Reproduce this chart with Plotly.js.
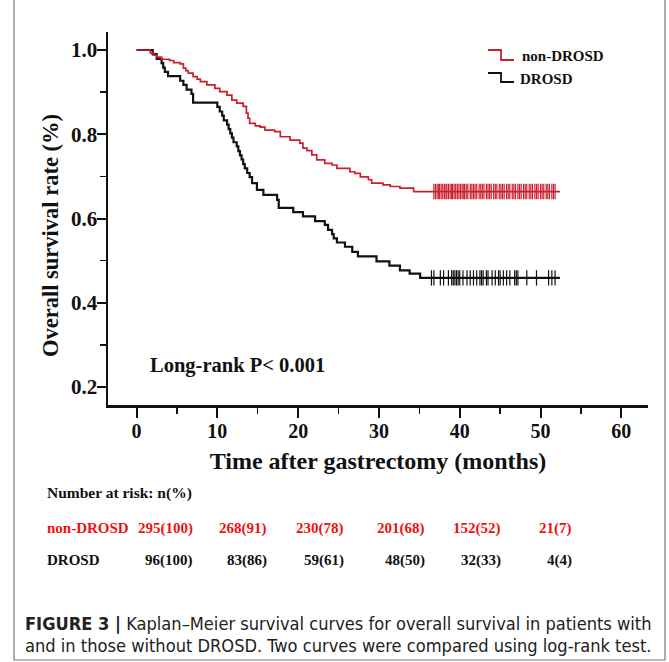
<!DOCTYPE html>
<html>
<head>
<meta charset="utf-8">
<script src="https://cdn.plot.ly/plotly-3.0.1.min.js"></script>
<style>html,body{margin:0;padding:0;background:#fff;}#chart{width:669px;height:662px;}</style>
</head>
<body>
<div id="chart"></div>
<script>
// ---------- DATA ----------
const seriesNames = ["non-DROSD", "DROSD"];

// Kaplan–Meier event times (months) and survival after each step
const nonDrosdTimes = [0, 1.7, 2.1, 2.5, 3.1, 4.1, 4.6, 5.4, 5.8, 6.1, 6.4, 7.0, 7.5, 7.9, 8.7, 9.7, 10.3, 11.2, 11.8, 12.4, 13.2, 13.6, 13.8, 14.0, 14.7, 15.3, 15.9, 17.1, 17.8, 19.0, 20.2, 20.6, 21.1, 21.7, 22.3, 23.3, 24.2, 24.8, 26.4, 27.0, 27.7, 28.7, 29.1, 30.5, 31.4, 32.6, 34.3];
const nonDrosdSurv  = [1.0, .993, .988, .983, .978, .975, .970, .967, .957, .951, .945, .937, .931, .925, .917, .909, .901, .893, .881, .874, .866, .850, .838, .826, .820, .817, .810, .806, .794, .786, .779, .767, .761, .751, .739, .731, .727, .719, .711, .707, .699, .692, .684, .680, .676, .672, .664];

const drosdTimes = [0, 2.0, 2.5, 3.1, 3.3, 3.5, 3.9, 5.4, 5.8, 6.2, 6.8, 7.0, 10.0, 10.3, 10.6, 10.8, 11.2, 11.4, 11.6, 11.8, 12.0, 12.4, 12.6, 12.8, 13.0, 13.2, 13.4, 13.7, 14.0, 14.3, 14.9, 15.7, 17.4, 17.6, 19.4, 20.6, 22.1, 23.3, 23.7, 24.2, 24.4, 24.8, 25.8, 26.7, 27.4, 29.7, 31.3, 32.6, 33.8, 35.1];
const drosdSurv  = [1.0, .990, .979, .969, .958, .948, .938, .927, .917, .906, .896, .875, .865, .854, .844, .833, .823, .812, .802, .792, .781, .771, .760, .750, .740, .729, .719, .708, .698, .684, .668, .656, .644, .625, .615, .605, .594, .585, .573, .563, .553, .543, .533, .521, .510, .498, .488, .477, .469, .459];

// censored observations (months)
const nonDrosdCensored = [36.8, 37.0, 37.2, 37.4, 37.5, 37.7, 37.9, 38.1, 38.3, 38.4, 38.6, 38.8, 39.0, 39.1, 39.3, 39.5, 39.7, 39.9, 40.1, 40.3, 40.5, 40.6, 40.8, 41.0, 41.3, 41.5, 41.7, 41.9, 42.1, 42.4, 42.6, 42.8, 43.0, 43.3, 43.5, 43.7, 43.9, 44.2, 44.4, 44.6, 44.9, 45.1, 45.3, 45.5, 45.8, 46.0, 46.2, 46.5, 46.7, 46.9, 47.2, 47.4, 47.6, 47.9, 48.1, 48.3, 48.6, 48.8, 49.0, 49.3, 49.5, 49.7, 50.0, 50.2, 50.4, 50.7, 50.9, 51.1, 51.4, 51.6, 51.8];
const drosdCensored = [36.5, 36.8, 37.6, 38.0, 38.6, 39.0, 39.2, 39.4, 39.6, 39.8, 40.0, 40.4, 40.9, 41.3, 41.7, 42.1, 42.5, 42.7, 42.9, 43.3, 43.5, 44.0, 44.4, 44.8, 45.0, 45.4, 45.8, 46.2, 46.8, 47.0, 47.2, 48.3, 49.5, 51.0, 51.4, 51.8];
const lastFollowUp = [52.4, 52.4];

// Number at risk table
const riskTimes = [0, 10, 20, 30, 40, 50];
const riskNonDrosd = ["295(100)", "268(91)", "230(78)", "201(68)", "152(52)", "21(7)"];
const riskDrosd    = ["96(100)", "83(86)", "59(61)", "48(50)", "32(33)", "4(4)"];

const xTickVals = [0, 10, 20, 30, 40, 50, 60];
const yTickVals = [0.2, 0.4, 0.6, 0.8, 1.0];
const yTickText = ["0.2", "0.4", "0.6", "0.8", "1.0"];

const xTitle = "Time after gastrectomy (months)";
const yTitle = "Overall survival rate (%)";
const pValueText = "Long-rank P< 0.001";
const riskHeader = "Number at risk: n(%)";
const captionBold = "FIGURE 3 |";
const captionLine1 = " Kaplan–Meier survival curves for overall survival in patients with";
const captionLine2 = "and in those without DROSD. Two curves were compared using log-rank test.";

// ---------- STYLE / GEOMETRY ----------
const W = 669, H = 662, ML = 108, MR = 21, MT = 32, MB = 257;
const PW = W - ML - MR, PH = H - MT - MB;
const fx = p => (p - ML) / PW;              // pixel x -> paper x
const fy = p => (H - MB - p) / PH;          // pixel y -> paper y
const RED = "#cc1f2e", BLACK = "#111111", TABLE_RED = "#ee1111";
const SERIF = "Liberation Serif, Times New Roman, serif";
const riskRightPx = [195, 269, 346, 427, 503, 574];

function stepValue(times, surv, t) {
  let v = surv[0];
  for (let i = 0; i < times.length; i++) { if (times[i] <= t) v = surv[i]; }
  return v;
}
function curve(times, surv, end) {
  return { x: times.concat([end]), y: surv.concat([surv[surv.length - 1]]) };
}

const cNon = curve(nonDrosdTimes, nonDrosdSurv, lastFollowUp[0]);
const cDr = curve(drosdTimes, drosdSurv, lastFollowUp[1]);

const traces = [
  { x: cDr.x, y: cDr.y, mode: "lines", line: { shape: "hv", color: BLACK, width: 2.2 }, name: seriesNames[1], hoverinfo: "skip" },
  { x: drosdCensored, y: drosdCensored.map(t => stepValue(drosdTimes, drosdSurv, t)), mode: "markers",
    marker: { symbol: "line-ns", size: 11, line: { color: BLACK, width: 1.2 } }, name: seriesNames[1] + " censored", hoverinfo: "skip" },
  { x: cNon.x, y: cNon.y, mode: "lines", line: { shape: "hv", color: RED, width: 1.7 }, name: seriesNames[0], hoverinfo: "skip" },
  { x: nonDrosdCensored, y: nonDrosdCensored.map(t => stepValue(nonDrosdTimes, nonDrosdSurv, t)), mode: "markers",
    marker: { symbol: "line-ns", size: 11, line: { color: RED, width: 1.2 } }, name: seriesNames[0] + " censored", hoverinfo: "skip" }
];

const annotations = [];
const shapes = [];

// legend (step-shaped keys)
function legendKey(yTop, yBot, color) {
  return { type: "path", xref: "paper", yref: "paper",
    path: `M ${fx(488)} ${fy(yTop)} L ${fx(501)} ${fy(yTop)} L ${fx(501)} ${fy(yBot)} L ${fx(514)} ${fy(yBot)}`,
    line: { color: color, width: 1.8 } };
}
shapes.push(legendKey(50, 60, RED));
shapes.push(legendKey(73, 82, BLACK));
annotations.push({ xref: "paper", yref: "paper", x: fx(520), y: fy(56), xanchor: "left", yanchor: "middle", showarrow: false,
  text: seriesNames[0], font: { family: SERIF, size: 15, color: "#111", weight: "bold" } });
annotations.push({ xref: "paper", yref: "paper", x: fx(518), y: fy(79), xanchor: "left", yanchor: "middle", showarrow: false,
  text: seriesNames[1], font: { family: SERIF, size: 15, color: "#111", weight: "bold" } });

// y-axis title (placed below the plot's centre, as in the reference)
annotations.push({ xref: "paper", yref: "paper", x: fx(51), y: fy(236), xanchor: "center", yanchor: "middle", showarrow: false,
  textangle: -90, text: yTitle, font: { family: SERIF, size: 22.5, color: "#111", weight: "bold" } });

// p-value
annotations.push({ xref: "paper", yref: "paper", x: fx(148), y: fy(365), xanchor: "left", yanchor: "middle", showarrow: false,
  text: pValueText, font: { family: SERIF, size: 20.5, color: "#111", weight: "bold" } });

// risk table
annotations.push({ xref: "paper", yref: "paper", x: fx(45), y: fy(493), xanchor: "left", yanchor: "middle", showarrow: false,
  text: riskHeader, font: { family: SERIF, size: 15.5, color: "#111", weight: "bold" } });
annotations.push({ xref: "paper", yref: "paper", x: fx(45), y: fy(528), xanchor: "left", yanchor: "middle", showarrow: false,
  text: seriesNames[0], font: { family: SERIF, size: 15, color: TABLE_RED, weight: "bold" } });
annotations.push({ xref: "paper", yref: "paper", x: fx(45), y: fy(560), xanchor: "left", yanchor: "middle", showarrow: false,
  text: seriesNames[1], font: { family: SERIF, size: 15, color: "#111", weight: "bold" } });
riskTimes.forEach((t, i) => {
  annotations.push({ xref: "paper", yref: "paper", x: fx(riskRightPx[i]), y: fy(528), xanchor: "right", yanchor: "middle", showarrow: false,
    text: riskNonDrosd[i], font: { family: SERIF, size: 15, color: TABLE_RED, weight: "bold" } });
  annotations.push({ xref: "paper", yref: "paper", x: fx(riskRightPx[i]), y: fy(560), xanchor: "right", yanchor: "middle", showarrow: false,
    text: riskDrosd[i], font: { family: SERIF, size: 15, color: "#111", weight: "bold" } });
});

// caption
const CAP = "DejaVu Sans Condensed, Liberation Sans, sans-serif";
annotations.push({ xref: "paper", yref: "paper", x: fx(23), y: fy(623), xanchor: "left", yanchor: "middle", showarrow: false,
  text: "<b>" + captionBold + "</b>" + captionLine1, font: { family: CAP, size: 18.1, color: "#222" } });
annotations.push({ xref: "paper", yref: "paper", x: fx(23), y: fy(645), xanchor: "left", yanchor: "middle", showarrow: false,
  text: captionLine2, font: { family: CAP, size: 18.1, color: "#222" } });

// outer frame
shapes.push({ type: "rect", xref: "paper", yref: "paper", x0: fx(14), x1: fx(665), y0: fy(660), y1: fy(-5),
  line: { color: "#777", width: 1.2 }, fillcolor: "rgba(0,0,0,0)", layer: "below" });

const layout = {
  width: W, height: H,
  margin: { l: ML, r: MR, t: MT, b: MB, pad: 0 },
  paper_bgcolor: "#ffffff", plot_bgcolor: "#ffffff",
  showlegend: false,
  xaxis: {
    range: [-3.53, 63.3], showgrid: false, zeroline: false,
    showline: true, linecolor: "#111", linewidth: 2.5,
    ticks: "outside", ticklen: 10, tickwidth: 2, tickcolor: "#111",
    tickvals: xTickVals, ticklabelstandoff: -4,
    minor: { dtick: 5, tick0: 5, ticks: "outside", ticklen: 6, tickwidth: 1.5, tickcolor: "#111" },
    tickfont: { family: SERIF, size: 20, color: "#111", weight: "bold" },
    title: { text: xTitle, standoff: 12, font: { family: SERIF, size: 24, color: "#111", weight: "bold" } }
  },
  yaxis: {
    range: [0.1573, 1.0427], showgrid: false, zeroline: false,
    showline: true, linecolor: "#111", linewidth: 2.5,
    ticks: "outside", ticklen: 9, tickwidth: 2, tickcolor: "#111",
    tickvals: yTickVals, ticktext: yTickText, ticklabelstandoff: -5,
    minor: { dtick: 0.2, tick0: 0.3, ticks: "outside", ticklen: 6, tickwidth: 1.5, tickcolor: "#111" },
    tickfont: { family: SERIF, size: 21, color: "#111", weight: "bold" }
  },
  annotations: annotations,
  shapes: shapes
};

Plotly.newPlot("chart", traces, layout, { staticPlot: true, displayModeBar: false });
</script>
</body>
</html>
